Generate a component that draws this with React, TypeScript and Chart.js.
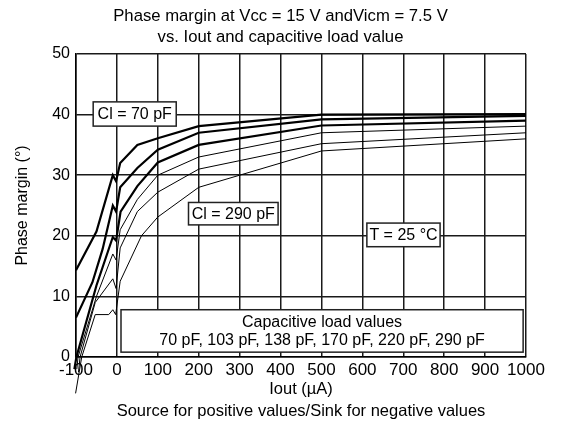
import React, { useEffect, useRef } from "react";
import { Chart, registerables } from "chart.js";

Chart.register(...registerables);

const FONT = "'Liberation Sans', Arial, Helvetica, sans-serif";

// ---- Text ----
const titleLines = ["Phase margin at Vcc = 15 V andVicm = 7.5 V", "vs. Iout and capacitive load value"];
const xTitleLines = ["Iout (\u00B5A)", "Source for positive values/Sink for negative values"];
const yTitle = "Phase margin (\u00B0)";

// ---- Axis ranges ----
const xMin = -100;
const xMax = 1000;
const xStep = 100;
const yMin = 0;
const yMax = 50;
const yStep = 10;

// ---- Series (Iout in µA, phase margin in °) ----
const seriesNames = ["70 pF", "103 pF", "138 pF", "170 pF", "220 pF", "290 pF"];

const cl70X = [-100, -50, -10, -2, 8, 50, 100, 200, 500, 1000];
const cl70Y = [14.3, 20.7, 30, 29, 32, 35, 36.1, 38.1, 40, 40.1];

const cl103X = [-100, -60, -35, -10, -2, 8, 50, 100, 200, 500, 1000];
const cl103Y = [6.5, 12.3, 17.8, 25, 24, 28, 31.2, 34.2, 37, 39.2, 39.8];

const cl138X = [-104, -99, -50, -10, -2, 9, 50, 100, 200, 500, 1000];
const cl138Y = [-2, 0, 11.8, 19.8, 19.2, 24, 28.2, 32.1, 35, 38.2, 39];

const cl170X = [-98, -95, -50, -10, -2, 8, 50, 100, 200, 500, 1000];
const cl170Y = [-2, 0, 10, 17, 16, 21, 26, 30, 33, 37, 38.1];

const cl220X = [-94, -90, -53, -10, -2, 8, 50, 100, 200, 500, 1000];
const cl220Y = [-2.5, 0, 9, 12.9, 11.3, 18, 24, 27.2, 31, 35.2, 37];

const cl290X = [-101, -86, -53, -20, -10, -3, 8, 60, 100, 200, 300, 400, 500, 1000];
const cl290Y = [-6, 0, 7, 7, 7.8, 7, 12.5, 20, 23.1, 28, 30, 32, 34, 36];

const seriesX = [cl70X, cl103X, cl138X, cl170X, cl220X, cl290X];
const seriesY = [cl70Y, cl103Y, cl138Y, cl170Y, cl220Y, cl290Y];

// ---- Annotation boxes (data coordinates) ----
const noteTexts = [
  ["Cl = 70 pF"],
  ["Cl = 290 pF"],
  ["T = 25 \u00B0C"],
  ["Capacitive load values", "70 pF, 103 pF, 138 pF, 170 pF, 220 pF, 290 pF"],
];
const noteX0 = [-58, 175, 611, 10];
const noteX1 = [145, 394, 790, 993];
const noteY0 = [38.1, 21.8, 18.2, 0.8];
const noteY1 = [42.1, 25.5, 22.1, 7.8];

const boxPlugin = {
  id: "noteBoxes",
  afterDatasetsDraw(chart: any) {
    const { ctx } = chart;
    const xs = chart.scales.x;
    const ys = chart.scales.y;
    ctx.save();
    noteTexts.forEach((lines, i) => {
      const l = xs.getPixelForValue(noteX0[i]);
      const r = xs.getPixelForValue(noteX1[i]);
      const t = ys.getPixelForValue(noteY1[i]);
      const b = ys.getPixelForValue(noteY0[i]);
      ctx.fillStyle = "#fff";
      ctx.fillRect(l, t, r - l, b - t);
      ctx.strokeStyle = "#222";
      ctx.lineWidth = 1.5;
      ctx.strokeRect(l, t, r - l, b - t);
      ctx.fillStyle = "#000";
      ctx.font = `16px ${FONT}`;
      ctx.textAlign = "center";
      ctx.textBaseline = "middle";
      const lh = 18;
      lines.forEach((s, k) => {
        ctx.fillText(s, (l + r) / 2, (t + b) / 2 + 1 + (k - (lines.length - 1) / 2) * lh);
      });
    });
    ctx.restore();
  },
};

const topTitlePlugin = {
  id: "topTitle",
  afterDraw(chart: any) {
    const { ctx, width } = chart;
    ctx.save();
    ctx.fillStyle = "#000";
    ctx.font = `16.7px ${FONT}`;
    ctx.textAlign = "center";
    ctx.textBaseline = "alphabetic";
    titleLines.forEach((s, k) => {
      ctx.fillText(s, width / 2, 21 + k * 21);
    });
    ctx.restore();
  },
};

export default function App() {
  const ref = useRef<HTMLCanvasElement | null>(null);

  useEffect(() => {
    if (!ref.current) return;
    Chart.defaults.font.family = FONT;
    const datasets = seriesNames.map((name, i) => ({
      label: name,
      data: seriesX[i].map((x, k) => ({ x, y: seriesY[i][k] })),
      borderColor: "#000",
      backgroundColor: "#000",
      borderWidth: i < 3 ? 2.2 : 1,
      pointRadius: 0,
      tension: 0,
      fill: false,
      clip: false as any,
    }));

    const gridColor = "#1a1a1a";
    const chart = new Chart(ref.current, {
      type: "line",
      data: { datasets },
      options: {
        animation: false,
        responsive: false,
        devicePixelRatio: 1,
        layout: { padding: { left: 0, right: 35, top: 54, bottom: 0 } },
        plugins: {
          legend: { display: false },
          tooltip: { enabled: false },
          title: { display: false },
        },
        scales: {
          x: {
            type: "linear",
            min: xMin,
            max: xMax,
            ticks: {
              stepSize: xStep,
              color: "#000",
              font: { size: 17 },
              padding: 3,
              maxRotation: 0,
              autoSkip: false,
              callback: (v: any) => String(v),
            },
            grid: { color: gridColor, lineWidth: 1.5, drawTicks: false },
            border: { color: "#000", width: 1.5 },
            title: {
              display: true,
              text: xTitleLines,
              color: "#000",
              font: { size: 16.5, lineHeight: 22 / 16.5 },
              padding: { top: 0, bottom: 5 },
            },
            afterFit: (s: any) => {
              s.height = 70;
            },
          },
          y: {
            type: "linear",
            min: yMin,
            max: yMax,
            ticks: { stepSize: yStep, color: "#000", font: { size: 16 }, padding: 6 },
            grid: { color: gridColor, lineWidth: 1.5, drawTicks: false },
            border: { color: "#000", width: 1.5 },
            title: {
              display: true,
              text: yTitle,
              color: "#000",
              font: { size: 16 },
              padding: { top: 13, bottom: 0 },
            },
            afterFit: (s: any) => {
              s.width = 76;
            },
          },
        },
      },
      plugins: [boxPlugin, topTitlePlugin],
    });
    return () => chart.destroy();
  }, []);

  return (
    <div style={{ position: "fixed", left: 0, top: 0, width: 561, height: 427, background: "#fff" }}>
      <canvas ref={ref} width={561} height={427} style={{ display: "block", width: 561, height: 427 }} />
    </div>
  );
}
